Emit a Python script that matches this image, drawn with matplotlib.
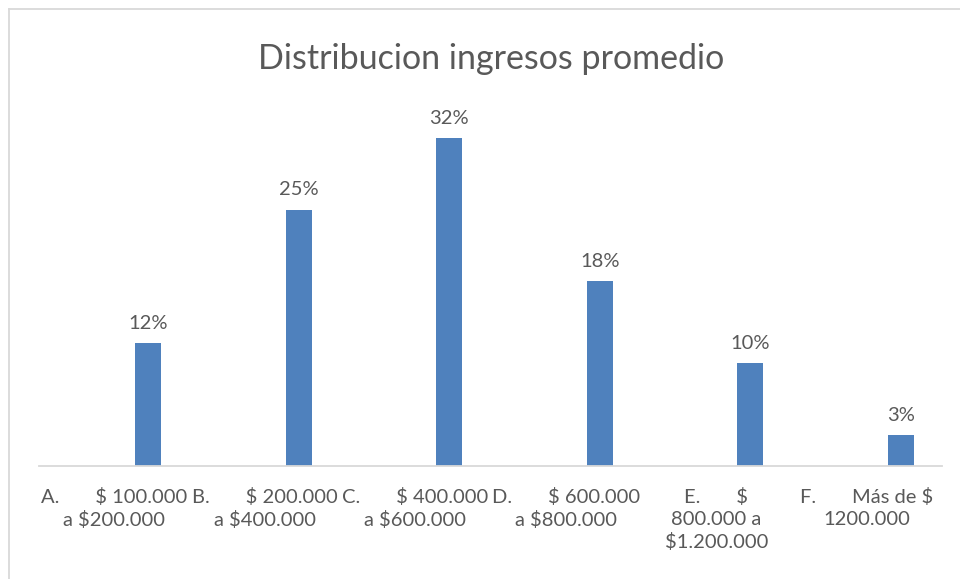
import numpy as np
import matplotlib
matplotlib.use('Agg')
import matplotlib.pyplot as plt
from matplotlib.lines import Line2D

# Data
categories = [
    "A.       $ 100.000\na $200.000",
    "B.       $ 200.000\na $400.000",
    "C.       $ 400.000\na $600.000",
    "D.       $ 600.000\na $800.000",
    "E.       $\n800.000 a\n$1.200.000",
    "F.       Más de $\n1200.000",
]
values = [12, 25, 32, 18, 10, 3]
value_labels = ["12%", "25%", "32%", "18%", "10%", "3%"]

title = "Distribucion ingresos promedio"

# Style
bar_color = '#4F81BD'
text_color = '#595959'
line_color = '#D9D9D9'
plt.rcParams['font.family'] = ['Lato', 'DejaVu Sans']

fig = plt.figure(figsize=(9.6, 5.79), dpi=100)
ax = fig.add_axes([39 / 960, 113 / 579, 903 / 960, 359 / 579])

x = np.arange(len(categories))
bar_offset = 0.226
ax.bar(x + bar_offset, values, width=0.173, color=bar_color, zorder=2)

for xi, v, lab in zip(x, values, value_labels):
    ax.annotate(lab, (xi + bar_offset, v), xytext=(0, 8),
                textcoords='offset points', ha='center', va='bottom',
                fontsize=14.5, color=text_color)

ax.set_xlim(-0.5, len(categories) - 0.5)
ax.set_ylim(0, 35)
ax.set_yticks([])
ax.set_xticks(x)
ax.set_xticklabels(categories, fontsize=14.5, color=text_color,
                   linespacing=1.32, ha='center', va='top')
ax.tick_params(axis='x', length=0, pad=16)

for side in ['top', 'right', 'left']:
    ax.spines[side].set_visible(False)
ax.spines['bottom'].set_color(line_color)
ax.spines['bottom'].set_linewidth(1.3)

fig.text(491 / 960, 1 - 59 / 579, title, ha='center', va='center',
         fontsize=24.5, color=text_color)

# Chart border (top and left only visible in the crop)
fig.add_artist(Line2D([9 / 960, 1], [1 - 9 / 579, 1 - 9 / 579],
                      color=line_color, linewidth=1.3,
                      transform=fig.transFigure))
fig.add_artist(Line2D([9 / 960, 9 / 960], [0, 1 - 9 / 579],
                      color=line_color, linewidth=1.3,
                      transform=fig.transFigure))

fig.savefig('out.png', dpi=100)
